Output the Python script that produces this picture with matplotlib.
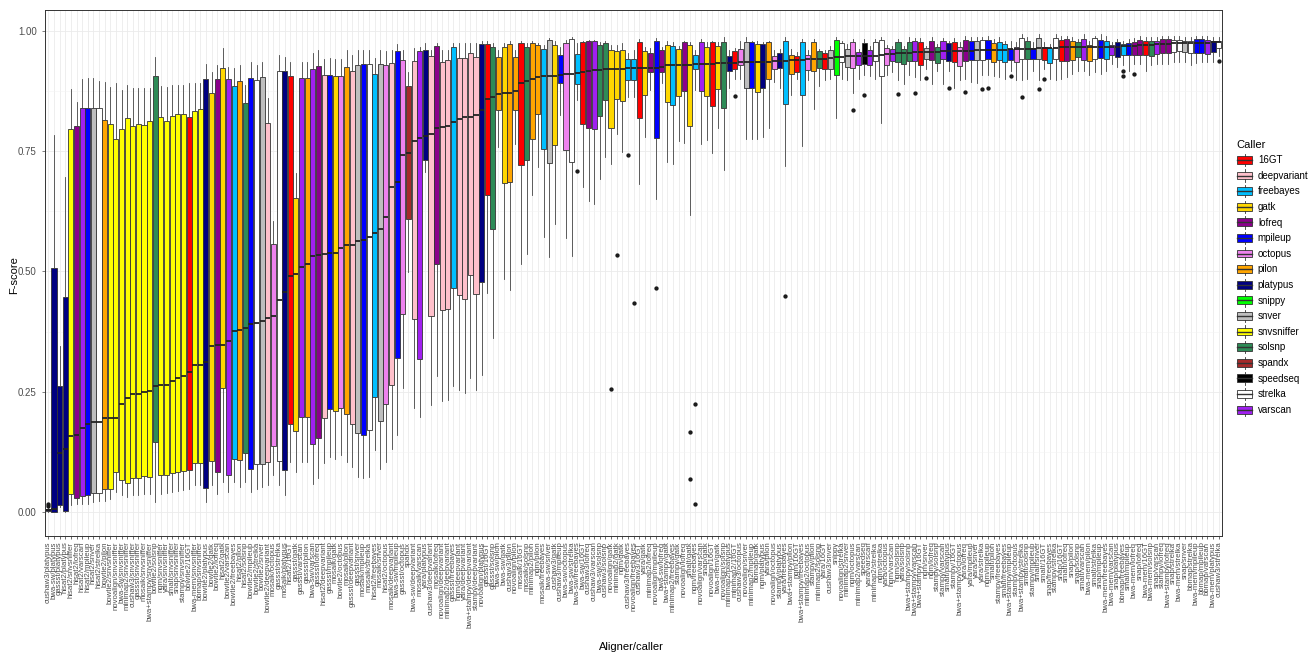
import matplotlib
matplotlib.use("Agg")
import matplotlib.pyplot as plt
from matplotlib.patches import Patch, Rectangle
from matplotlib.lines import Line2D
from matplotlib.legend_handler import HandlerBase

plt.rcParams['font.family'] = ['Liberation Sans', 'DejaVu Sans']

# caller colours, legend order
caller_names = ['16GT', 'deepvariant', 'freebayes', 'gatk', 'lofreq', 'mpileup', 'octopus',
                'pilon', 'platypus', 'snippy', 'snver', 'snvsniffer', 'solsnp', 'spandx',
                'speedseq', 'strelka', 'varscan']
caller_colours = ['#FF0000', '#FFC0CB', '#00BFFF', '#FFD700', '#8B008B', '#0000FF', '#EE82EE',
                  '#FFA500', '#000080', '#00FF00', '#BEBEBE', '#FFFF00', '#2E8B57', '#A52A2A',
                  '#000000', '#FFFFFF', '#A020F0']

# pipelines, sorted by median F-score
aligner = [
    'cushaw3', 'bwa-sw', 'gassst', 'hisat2', 'hisat2', 'hisat2', 'hisat2', 'hisat2', 'hisat2', 'hisat2',
    'bowtie2', 'bowtie2', 'novoalign', 'bwa-sw', 'minimap2', 'cushaw3', 'gassst', 'mosaik', 'bwa+stampy', 'bowtie2',
    'ngm', 'yara', 'smalt', 'snap', 'stampy', 'bowtie2', 'bwa-mem', 'bbmap', 'bowtie2', 'bowtie2',
    'bowtie2', 'hisat2', 'bowtie2', 'bowtie2', 'hisat2', 'hisat2', 'bowtie2', 'bowtie2', 'bowtie2', 'bowtie2',
    'mosaik', 'gassst', 'mosaik', 'hisat2', 'gassst', 'gassst', 'gassst', 'bwa-sw', 'gassst', 'hisat2',
    'gassst', 'mosaik', 'bowtie2', 'mosaik', 'gassst', 'gassst', 'mosaik', 'mosaik', 'hisat2', 'mosaik',
    'hisat2', 'mosaik', 'bwa-sw', 'gassst', '', 'bwa-sw', 'mosaik', 'yara', 'cushaw3', 'mosaik',
    'novoalign', 'minimap2', 'gassst', 'ngm', 'yara', 'bwa+stampy', 'stampy', 'novoalign', 'gassst', 'gassst',
    'bwa-sw', 'bwa-sw', 'cushaw3', 'novoalign', 'mosaik', 'mosaik', 'minimap2', 'ngm', 'mosaik', 'bwa-sw',
    'cushaw3', 'cushaw3', 'bwa-sw', 'bwa-sw', 'bwa-sw', 'bwa-sw', 'cushaw3', 'cushaw3', 'bwa-sw', 'cushaw3',
    'novoalign', 'minimap2', 'ngm', 'cushaw3', 'novoalign', 'cushaw3', 'yara', 'minimap2', 'novoalign', 'bwa-sw',
    'bwa+stampy', 'minimap2', 'stampy', 'novoalign', 'smalt', 'ngm', 'novoalign', 'snap', 'novoalign', 'bwa-mem',
    'novoalign', 'minimap2', 'minimap2', 'cushaw3', 'novoalign', 'minimap2', 'bbmap', 'ngm', 'yara', 'novoalign',
    'stampy', 'yara', 'bwa+stampy', 'ngm', 'bwa+stampy', 'minimap2', 'stampy', 'minimap2', 'yara', 'cushaw3',
    '', 'novoalign', 'minimap2', 'ngm', 'minimap2', '', 'yara', 'minimap2', 'ngm', 'yara',
    'ngm', 'ngm', 'yara', 'bwa+stampy', 'bwa+stampy', 'bwa+stampy', 'ngm', 'ngm', 'stampy', 'stampy',
    'smalt', 'stampy', 'bwa+stampy', 'yara', 'yara', 'yara', 'yara', 'ngm', 'smalt', 'stampy',
    'smalt', 'bwa+stampy', 'stampy', 'bwa+stampy', 'smalt', 'stampy', 'smalt', 'smalt', 'snap', 'stampy',
    'snap', 'smalt', 'snap', 'snap', 'smalt', 'bwa-mem', 'smalt', 'snap', 'bwa-mem', 'bwa-mem',
    'snap', 'bbmap', 'smalt', 'bwa-mem', 'snap', 'bwa-mem', 'bwa-mem', 'snap', 'stampy', 'bwa+stampy',
    'snap', 'bwa-mem', 'snap', 'bbmap', 'bwa-mem', 'bbmap', 'bbmap', 'bwa-mem', 'cushaw3',
]
caller = [
    'platypus', 'platypus', 'platypus', 'platypus', 'snvsniffer', 'lofreq', 'varscan', 'mpileup', 'snver', 'strelka',
    'pilon', 'snvsniffer', 'snvsniffer', 'snvsniffer', 'snvsniffer', 'snvsniffer', 'snvsniffer', 'snvsniffer', 'snvsniffer', 'solsnp',
    'snvsniffer', 'snvsniffer', 'snvsniffer', 'snvsniffer', 'snvsniffer', '16GT', 'snvsniffer', 'snvsniffer', 'platypus', 'gatk',
    'lofreq', 'gatk', 'varscan', 'freebayes', 'pilon', 'solsnp', 'mpileup', 'strelka', 'snver', 'deepvariant',
    'octopus', 'strelka', 'platypus', '16GT', 'gatk', 'varscan', 'pilon', 'varscan', 'lofreq', 'deepvariant',
    'mpileup', 'gatk', 'octopus', 'pilon', 'deepvariant', 'snver', 'mpileup', 'strelka', 'freebayes', 'snver',
    'octopus', 'deepvariant', 'mpileup', 'octopus', 'spandx', 'deepvariant', 'varscan', 'platypus', 'deepvariant', 'lofreq',
    'deepvariant', 'deepvariant', 'freebayes', 'deepvariant', 'deepvariant', 'deepvariant', 'deepvariant', 'platypus', '16GT', 'solsnp',
    'pilon', 'gatk', 'pilon', 'pilon', '16GT', 'solsnp', 'pilon', 'pilon', 'freebayes', 'snver',
    'gatk', 'mpileup', 'octopus', 'strelka', 'freebayes', '16GT', 'lofreq', 'varscan', 'solsnp', 'solsnp',
    'gatk', 'gatk', 'gatk', 'freebayes', 'freebayes', '16GT', 'gatk', 'lofreq', 'mpileup', 'lofreq',
    'gatk', 'freebayes', 'gatk', 'lofreq', 'gatk', 'freebayes', 'varscan', 'gatk', '16GT', 'gatk',
    'solsnp', 'platypus', '16GT', 'octopus', 'snver', 'mpileup', 'gatk', 'platypus', 'pilon', 'octopus',
    'platypus', 'freebayes', 'pilon', '16GT', 'freebayes', 'octopus', 'pilon', 'solsnp', '16GT', 'snver',
    'snippy', 'strelka', 'snver', 'octopus', 'varscan', 'speedseq', 'varscan', 'strelka', 'strelka', 'octopus',
    'varscan', 'solsnp', 'solsnp', 'solsnp', 'varscan', '16GT', 'snver', 'lofreq', 'solsnp', 'varscan',
    'platypus', '16GT', 'octopus', 'lofreq', 'mpileup', 'snver', 'strelka', 'mpileup', 'pilon', 'freebayes',
    'freebayes', 'mpileup', 'octopus', 'strelka', 'solsnp', 'mpileup', 'snver', '16GT', 'freebayes', 'strelka',
    '16GT', 'lofreq', 'pilon', 'solsnp', 'varscan', 'pilon', 'strelka', 'mpileup', 'freebayes', 'varscan',
    'platypus', 'freebayes', 'mpileup', 'lofreq', 'lofreq', '16GT', 'solsnp', 'varscan', 'lofreq', 'lofreq',
    'strelka', 'strelka', 'snver', 'strelka', 'mpileup', 'mpileup', 'varscan', 'platypus', 'strelka',
]

# F-score summaries per pipeline
whislo = [
    0.000, 0.000, 0.010, 0.000, 0.014, 0.017, 0.017, 0.017, 0.021, 0.024,
    0.023, 0.028, 0.042, 0.035, 0.031, 0.035, 0.036, 0.038, 0.038, 0.021,
    0.038, 0.040, 0.042, 0.043, 0.045, 0.049, 0.056, 0.056, 0.021, 0.056,
    0.038, 0.063, 0.042, 0.063, 0.052, 0.063, 0.042, 0.049, 0.052, 0.056,
    0.077, 0.056, 0.035, 0.104, 0.084, 0.104, 0.104, 0.059, 0.070, 0.101,
    0.115, 0.111, 0.118, 0.104, 0.094, 0.073, 0.070, 0.073, 0.129, 0.090,
    0.104, 0.132, 0.160, 0.257, 0.498, 0.216, 0.198, 0.706, 0.223, 0.282,
    0.230, 0.233, 0.261, 0.254, 0.247, 0.278, 0.254, 0.285, 0.456, 0.362,
    0.759, 0.484, 0.461, 0.765, 0.516, 0.537, 0.658, 0.717, 0.571, 0.529,
    0.598, 0.825, 0.569, 0.532, 0.856, 0.675, 0.647, 0.639, 0.692, 0.738,
    0.724, 0.786, 0.748, 0.863, 0.863, 0.682, 0.779, 0.877, 0.651, 0.891,
    0.728, 0.724, 0.770, 0.766, 0.617, 0.876, 0.765, 0.773, 0.746, 0.797,
    0.711, 0.881, 0.900, 0.900, 0.775, 0.775, 0.775, 0.780, 0.798, 0.893,
    0.881, 0.718, 0.866, 0.900, 0.761, 0.897, 0.837, 0.885, 0.897, 0.900,
    0.819, 0.900, 0.897, 0.871, 0.900, 0.907, 0.906, 0.900, 0.809, 0.907,
    0.914, 0.897, 0.890, 0.907, 0.904, 0.897, 0.921, 0.890, 0.917, 0.890,
    0.917, 0.880, 0.897, 0.900, 0.893, 0.892, 0.907, 0.909, 0.906, 0.904,
    0.900, 0.917, 0.897, 0.897, 0.900, 0.917, 0.897, 0.921, 0.900, 0.897,
    0.900, 0.904, 0.911, 0.917, 0.917, 0.907, 0.914, 0.911, 0.917, 0.931,
    0.924, 0.928, 0.917, 0.931, 0.931, 0.917, 0.928, 0.931, 0.931, 0.931,
    0.935, 0.935, 0.935, 0.928, 0.933, 0.935, 0.935, 0.935, 0.948,
]
q1 = [
    0.002, 0.001, 0.015, 0.003, 0.037, 0.030, 0.033, 0.035, 0.040, 0.040,
    0.047, 0.047, 0.084, 0.066, 0.061, 0.071, 0.071, 0.074, 0.072, 0.146,
    0.078, 0.078, 0.081, 0.084, 0.086, 0.088, 0.101, 0.101, 0.051, 0.106,
    0.084, 0.257, 0.077, 0.111, 0.109, 0.122, 0.090, 0.100, 0.100, 0.104,
    0.138, 0.106, 0.087, 0.184, 0.168, 0.198, 0.198, 0.141, 0.153, 0.196,
    0.214, 0.209, 0.216, 0.203, 0.184, 0.165, 0.161, 0.170, 0.239, 0.190,
    0.225, 0.264, 0.321, 0.411, 0.608, 0.402, 0.317, 0.731, 0.407, 0.516,
    0.419, 0.421, 0.466, 0.450, 0.442, 0.492, 0.454, 0.479, 0.658, 0.588,
    0.836, 0.683, 0.685, 0.836, 0.722, 0.732, 0.776, 0.828, 0.755, 0.726,
    0.763, 0.891, 0.752, 0.727, 0.889, 0.806, 0.797, 0.795, 0.823, 0.857,
    0.798, 0.858, 0.855, 0.898, 0.898, 0.818, 0.866, 0.915, 0.777, 0.915,
    0.852, 0.845, 0.865, 0.874, 0.803, 0.921, 0.874, 0.865, 0.843, 0.878,
    0.840, 0.917, 0.921, 0.928, 0.880, 0.880, 0.873, 0.880, 0.900, 0.921,
    0.922, 0.847, 0.911, 0.915, 0.867, 0.919, 0.916, 0.922, 0.920, 0.921,
    0.909, 0.935, 0.924, 0.922, 0.928, 0.931, 0.928, 0.937, 0.906, 0.928,
    0.938, 0.936, 0.931, 0.938, 0.938, 0.929, 0.942, 0.940, 0.933, 0.942,
    0.938, 0.936, 0.926, 0.938, 0.940, 0.940, 0.940, 0.942, 0.936, 0.939,
    0.935, 0.939, 0.935, 0.942, 0.942, 0.942, 0.942, 0.940, 0.933, 0.942,
    0.938, 0.938, 0.940, 0.945, 0.940, 0.938, 0.942, 0.943, 0.942, 0.950,
    0.945, 0.950, 0.950, 0.950, 0.950, 0.950, 0.948, 0.952, 0.954, 0.954,
    0.955, 0.957, 0.955, 0.954, 0.954, 0.954, 0.952, 0.955, 0.964,
]
med = [
    0.004, 0.007, 0.122, 0.131, 0.159, 0.160, 0.175, 0.184, 0.188, 0.188,
    0.195, 0.195, 0.196, 0.225, 0.237, 0.245, 0.245, 0.249, 0.252, 0.261,
    0.264, 0.264, 0.273, 0.278, 0.282, 0.291, 0.306, 0.306, 0.312, 0.346,
    0.348, 0.348, 0.355, 0.376, 0.379, 0.383, 0.390, 0.393, 0.398, 0.404,
    0.408, 0.440, 0.458, 0.491, 0.494, 0.510, 0.515, 0.532, 0.534, 0.536,
    0.538, 0.538, 0.548, 0.555, 0.555, 0.564, 0.565, 0.571, 0.580, 0.588,
    0.612, 0.675, 0.685, 0.742, 0.745, 0.770, 0.777, 0.781, 0.786, 0.797,
    0.799, 0.802, 0.811, 0.816, 0.820, 0.821, 0.825, 0.835, 0.859, 0.863,
    0.868, 0.870, 0.871, 0.874, 0.892, 0.896, 0.899, 0.903, 0.906, 0.906,
    0.906, 0.908, 0.910, 0.910, 0.913, 0.915, 0.917, 0.919, 0.919, 0.920,
    0.920, 0.921, 0.921, 0.922, 0.922, 0.922, 0.922, 0.922, 0.923, 0.925,
    0.928, 0.928, 0.928, 0.928, 0.929, 0.930, 0.931, 0.931, 0.931, 0.933,
    0.933, 0.933, 0.933, 0.935, 0.936, 0.936, 0.936, 0.936, 0.936, 0.937,
    0.938, 0.938, 0.939, 0.939, 0.940, 0.941, 0.941, 0.942, 0.942, 0.943,
    0.945, 0.946, 0.947, 0.948, 0.948, 0.948, 0.948, 0.948, 0.950, 0.951,
    0.952, 0.953, 0.953, 0.954, 0.955, 0.955, 0.955, 0.955, 0.955, 0.957,
    0.957, 0.957, 0.957, 0.957, 0.957, 0.959, 0.959, 0.959, 0.959, 0.959,
    0.959, 0.961, 0.961, 0.962, 0.962, 0.962, 0.964, 0.964, 0.964, 0.964,
    0.966, 0.966, 0.966, 0.966, 0.966, 0.967, 0.967, 0.967, 0.967, 0.967,
    0.967, 0.969, 0.969, 0.969, 0.970, 0.970, 0.970, 0.972, 0.972, 0.973,
    0.974, 0.974, 0.974, 0.974, 0.975, 0.975, 0.975, 0.976, 0.976,
]
q3 = [
    0.006, 0.508, 0.262, 0.447, 0.795, 0.802, 0.839, 0.840, 0.840, 0.839,
    0.814, 0.806, 0.774, 0.795, 0.818, 0.802, 0.806, 0.804, 0.812, 0.906,
    0.820, 0.813, 0.822, 0.826, 0.828, 0.820, 0.834, 0.837, 0.900, 0.870,
    0.900, 0.923, 0.899, 0.885, 0.896, 0.849, 0.901, 0.898, 0.903, 0.809,
    0.557, 0.917, 0.917, 0.905, 0.653, 0.901, 0.901, 0.920, 0.927, 0.907,
    0.907, 0.905, 0.906, 0.925, 0.916, 0.928, 0.931, 0.931, 0.910, 0.931,
    0.929, 0.932, 0.957, 0.939, 0.886, 0.937, 0.957, 0.960, 0.948, 0.969,
    0.936, 0.940, 0.966, 0.944, 0.944, 0.953, 0.945, 0.973, 0.973, 0.967,
    0.945, 0.967, 0.973, 0.946, 0.974, 0.966, 0.974, 0.971, 0.962, 0.980,
    0.971, 0.950, 0.974, 0.983, 0.952, 0.976, 0.978, 0.978, 0.971, 0.974,
    0.959, 0.957, 0.959, 0.941, 0.941, 0.976, 0.957, 0.953, 0.979, 0.960,
    0.970, 0.968, 0.961, 0.976, 0.971, 0.950, 0.976, 0.966, 0.976, 0.968,
    0.976, 0.948, 0.957, 0.962, 0.976, 0.976, 0.972, 0.972, 0.976, 0.948,
    0.954, 0.979, 0.950, 0.948, 0.976, 0.950, 0.976, 0.957, 0.954, 0.959,
    0.981, 0.975, 0.962, 0.976, 0.955, 0.975, 0.960, 0.976, 0.981, 0.964,
    0.962, 0.976, 0.962, 0.976, 0.979, 0.976, 0.964, 0.979, 0.966, 0.979,
    0.975, 0.977, 0.966, 0.981, 0.979, 0.978, 0.981, 0.981, 0.974, 0.976,
    0.972, 0.962, 0.967, 0.984, 0.979, 0.964, 0.984, 0.966, 0.965, 0.984,
    0.981, 0.983, 0.979, 0.976, 0.983, 0.970, 0.984, 0.981, 0.979, 0.970,
    0.976, 0.972, 0.974, 0.976, 0.981, 0.979, 0.979, 0.978, 0.983, 0.983,
    0.981, 0.981, 0.979, 0.979, 0.983, 0.983, 0.981, 0.978, 0.979,
]
whishi = [
    0.008, 0.783, 0.344, 0.697, 0.878, 0.852, 0.900, 0.901, 0.901, 0.896,
    0.893, 0.884, 0.891, 0.877, 0.887, 0.880, 0.880, 0.880, 0.880, 0.946,
    0.885, 0.884, 0.887, 0.887, 0.887, 0.891, 0.891, 0.891, 0.931, 0.915,
    0.929, 0.965, 0.925, 0.922, 0.928, 0.887, 0.934, 0.929, 0.936, 0.860,
    0.605, 0.950, 0.946, 0.936, 0.704, 0.936, 0.936, 0.953, 0.959, 0.941,
    0.943, 0.941, 0.941, 0.960, 0.950, 0.960, 0.959, 0.959, 0.943, 0.960,
    0.957, 0.960, 0.973, 0.960, 0.915, 0.964, 0.967, 0.974, 0.960, 0.975,
    0.960, 0.960, 0.974, 0.974, 0.974, 0.974, 0.974, 0.978, 0.978, 0.974,
    0.960, 0.974, 0.978, 0.960, 0.978, 0.974, 0.978, 0.974, 0.971, 0.985,
    0.978, 0.967, 0.981, 0.987, 0.974, 0.978, 0.981, 0.981, 0.976, 0.978,
    0.971, 0.971, 0.974, 0.953, 0.960, 0.983, 0.967, 0.964, 0.985, 0.967,
    0.979, 0.976, 0.969, 0.979, 0.976, 0.959, 0.983, 0.976, 0.979, 0.976,
    0.986, 0.959, 0.964, 0.979, 0.986, 0.979, 0.979, 0.976, 0.979, 0.959,
    0.962, 0.986, 0.962, 0.955, 0.983, 0.959, 0.983, 0.962, 0.959, 0.969,
    0.986, 0.979, 0.972, 0.983, 0.962, 0.983, 0.969, 0.983, 0.986, 0.970,
    0.969, 0.983, 0.969, 0.986, 0.984, 0.984, 0.969, 0.986, 0.972, 0.984,
    0.979, 0.984, 0.976, 0.988, 0.986, 0.986, 0.986, 0.988, 0.983, 0.986,
    0.979, 0.979, 0.976, 0.993, 0.986, 0.976, 0.993, 0.977, 0.972, 0.993,
    0.990, 0.990, 0.986, 0.983, 0.993, 0.979, 0.988, 0.993, 0.988, 0.976,
    0.983, 0.979, 0.983, 0.984, 0.988, 0.986, 0.986, 0.986, 0.990, 0.990,
    0.989, 0.990, 0.986, 0.986, 0.989, 0.990, 0.990, 0.986, 0.986,
]
# outlying points, keyed by pipeline index
outliers = {
    0: [0.012, 0.017], 94: [0.708], 100: [0.255], 101: [0.535], 103: [0.742],
    104: [0.435], 108: [0.465], 114: [0.166, 0.068], 115: [0.225, 0.017],
    122: [0.865], 131: [0.448], 143: [0.836], 145: [0.866], 151: [0.869],
    154: [0.871], 156: [0.902], 160: [0.880], 163: [0.873], 166: [0.878],
    167: [0.881], 171: [0.905], 173: [0.862], 176: [0.878], 177: [0.899],
    191: [0.916, 0.906], 193: [0.910], 208: [0.938],
}

labels = [f'{a}/{c}' if a else c for a, c in zip(aligner, caller)]
colour_of = dict(zip(caller_names, caller_colours))

stats = []
for k in range(len(labels)):
    stats.append({'whislo': whislo[k], 'q1': q1[k], 'med': med[k], 'q3': q3[k],
                  'whishi': whishi[k], 'fliers': outliers.get(k, []), 'label': labels[k]})

edge = '#333333'
fig = plt.figure(figsize=(13.08, 6.54), dpi=100)
ax = fig.add_axes([0.0344, 0.1804, 0.8999, 0.8043])

pos = list(range(1, len(stats) + 1))
bp = ax.bxp(stats, positions=pos, widths=0.9, patch_artist=True, showcaps=False,
            boxprops=dict(edgecolor=edge, linewidth=0.6),
            whiskerprops=dict(color='#444444', linewidth=0.6),
            medianprops=dict(color='#222222', linewidth=1.3, solid_capstyle='butt'),
            flierprops=dict(marker='o', markersize=2.1, markerfacecolor='#1a1a1a',
                            markeredgecolor='#1a1a1a', linestyle='none'))
for box, c in zip(bp['boxes'], caller):
    box.set_facecolor(colour_of[c])

ax.set_xlim(0.4, len(stats) + 0.6)
ax.set_ylim(-0.0497, 1.043)
ax.set_yticks([0, 0.25, 0.5, 0.75, 1.0])
ax.set_yticklabels(['0.00', '0.25', '0.50', '0.75', '1.00'])
ax.set_yticks([0.125, 0.375, 0.625, 0.875], minor=True)
ax.set_xticks(pos)
ax.set_xticklabels(labels, rotation=90, ha='center', va='top', fontsize=5.6, color='#4D4D4D')
ax.tick_params(axis='y', labelsize=7, colors='#4D4D4D', length=2.5, width=0.5)
ax.tick_params(axis='y', which='minor', length=0)
ax.tick_params(axis='x', length=2.5, width=0.5, color='#333333', pad=1.5)

ax.set_axisbelow(True)
ax.grid(True, which='major', color='#EBEBEB', linewidth=0.6)
ax.grid(True, which='minor', axis='y', color='#F3F3F3', linewidth=0.4)
for s in ax.spines.values():
    s.set_color('#333333')
    s.set_linewidth(0.7)

fig.text(0.0105, 0.58, 'F-score', fontsize=8, rotation=90, ha='center', va='center')
fig.text(0.483, 0.003, 'Aligner/caller', fontsize=8, ha='center', va='bottom')


class BoxKey(HandlerBase):
    # small boxplot glyph for the legend keys
    def create_artists(self, legend, orig_handle, xdescent, ydescent, width, height,
                       fontsize, trans):
        x0, y0 = -xdescent, -ydescent
        cx = x0 + width / 2
        fc = orig_handle.get_facecolor()
        rect = Rectangle((x0 + width * 0.08, y0 + height * 0.15), width * 0.84, height * 0.7,
                         facecolor=fc, edgecolor=edge, linewidth=0.6, transform=trans)
        top = Line2D([cx, cx], [y0 + height * 0.85, y0 + height * 1.05], color=edge, lw=0.6, transform=trans)
        bot = Line2D([cx, cx], [y0 - height * 0.05, y0 + height * 0.15], color=edge, lw=0.6, transform=trans)
        mid = Line2D([x0 + width * 0.08, x0 + width * 0.92], [y0 + height / 2] * 2,
                     color=edge, lw=1.0, transform=trans)
        return [rect, top, bot, mid]


handles = [Patch(facecolor=c, edgecolor=edge) for c in caller_colours]
leg = fig.legend(handles, caller_names, loc='upper left', bbox_to_anchor=(0.942, 0.792),
                 frameon=False, title='Caller', fontsize=7, title_fontsize=8,
                 handler_map={Patch: BoxKey()}, handlelength=1.75, handleheight=1.4,
                 labelspacing=0.45, handletextpad=0.5, borderaxespad=0)
leg._legend_box.align = 'left'

fig.savefig('out.png', dpi=100)
